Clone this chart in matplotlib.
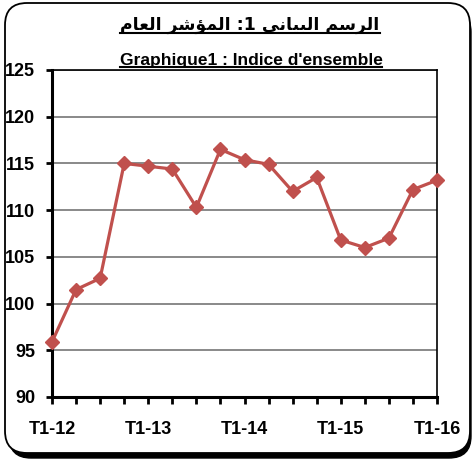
import matplotlib
matplotlib.use('Agg')
import matplotlib.pyplot as plt
from matplotlib.patches import FancyBboxPatch
from matplotlib.lines import Line2D
from matplotlib.transforms import IdentityTransform

# données
quarters = ['T1-12', 'T2-12', 'T3-12', 'T4-12',
            'T1-13', 'T2-13', 'T3-13', 'T4-13',
            'T1-14', 'T2-14', 'T3-14', 'T4-14',
            'T1-15', 'T2-15', 'T3-15', 'T4-15',
            'T1-16']
indice = [95.9, 101.5, 102.7, 115.0,
          114.7, 114.4, 110.3, 116.5,
          115.4, 114.9, 112.0, 113.5,
          106.8, 106.0, 107.0, 112.2,
          113.2]
y_ticks = [90, 95, 100, 105, 110, 115, 120, 125]

title_ar = 'الرسم البيانى 1: المؤشر العام'
title_fr = "Graphique1 : Indice d'ensemble"

# formes contextuelles arabes (isolée, finale, initiale, médiane)
forms = {
    'ا': ('\uFE8D', '\uFE8E', None, None),
    'ل': ('\uFEDD', '\uFEDE', '\uFEDF', '\uFEE0'),
    'ر': ('\uFEAD', '\uFEAE', None, None),
    'س': ('\uFEB1', '\uFEB2', '\uFEB3', '\uFEB4'),
    'م': ('\uFEE1', '\uFEE2', '\uFEE3', '\uFEE4'),
    'ب': ('\uFE8F', '\uFE90', '\uFE91', '\uFE92'),
    'ي': ('\uFEF1', '\uFEF2', '\uFEF3', '\uFEF4'),
    'ى': ('\uFEEF', '\uFEF0', None, None),
    'ن': ('\uFEE5', '\uFEE6', '\uFEE7', '\uFEE8'),
    'ؤ': ('\uFE85', '\uFE86', None, None),
    'ش': ('\uFEB5', '\uFEB6', '\uFEB7', '\uFEB8'),
    'ع': ('\uFEC9', '\uFECA', '\uFECB', '\uFECC'),
}


def shape_arabic(s):
    out = []
    for i, c in enumerate(s):
        if c not in forms:
            out.append(c)
            continue
        prev = s[i - 1] if i > 0 else ''
        nxt = s[i + 1] if i + 1 < len(s) else ''
        join_prev = prev in forms and forms[prev][2] is not None
        join_next = nxt in forms and forms[c][2] is not None
        iso, fin, ini, med = forms[c]
        if join_prev and join_next:
            out.append(med)
        elif join_prev:
            out.append(fin)
        elif join_next:
            out.append(ini)
        else:
            out.append(iso)
    return ''.join(out)[::-1]


plt.rcParams['font.family'] = ['Liberation Sans', 'DejaVu Sans']

fig = plt.figure(figsize=(4.74, 4.63), dpi=100)

# cadre arrondi avec ombre
shadow = FancyBboxPatch((9, 5), 462, 448, boxstyle='round,pad=0,rounding_size=22',
                        transform=IdentityTransform(), facecolor='black',
                        edgecolor='black', lw=1, zorder=0)
frame = FancyBboxPatch((5, 10), 465, 450, boxstyle='round,pad=0,rounding_size=22',
                       transform=IdentityTransform(), facecolor='white',
                       edgecolor='black', lw=1.3, zorder=1)
fig.patches.append(shadow)
fig.patches.append(frame)

ax = fig.add_axes([52 / 474, 1 - 397 / 463, (437 - 52) / 474, (397 - 70) / 463])
ax.set_zorder(2)
ax.patch.set_alpha(0)

x = list(range(len(quarters)))
ax.plot(x, indice, color='#C0504D', lw=2.3, marker='D', markersize=7,
        markeredgecolor='#C0504D', zorder=3, clip_on=False)

ax.set_xlim(0, len(quarters) - 1)
ax.set_ylim(90, 125)
ax.set_yticks(y_ticks)
ax.set_xticks(x)
ax.set_xticklabels([q if i % 4 == 0 else '' for i, q in enumerate(quarters)])
ax.yaxis.grid(True, color='#808080', lw=1.3)
ax.set_axisbelow(True)

for side in ['left', 'bottom']:
    ax.spines[side].set_linewidth(2.2)
for side in ['top', 'right']:
    ax.spines[side].set_linewidth(1.2)

ax.tick_params(axis='y', direction='out', length=4, width=2, pad=8,
               labelsize=13)
ax.tick_params(axis='x', direction='out', length=5, width=2, pad=12,
               labelsize=13)
for lab in ax.get_xticklabels() + ax.get_yticklabels():
    lab.set_fontweight('bold')

# titres soulignés
t1 = fig.text(250 / 474, 1 - 25 / 463, shape_arabic(title_ar), ha='center', va='center',
              fontsize=12.5, fontweight='bold', family=['DejaVu Sans'], zorder=5)
t2 = fig.text(251 / 474, 1 - 60 / 463, title_fr, ha='center', va='center',
              fontsize=12.5, fontweight='bold', zorder=5)

fig.canvas.draw()
r = fig.canvas.get_renderer()
for t, off in [(t1, 1), (t2, 1)]:
    bb = t.get_window_extent(r)
    fig.lines.append(Line2D([bb.x0, bb.x1], [bb.y0 + off, bb.y0 + off],
                            transform=IdentityTransform(), color='black',
                            lw=1.5, zorder=5))

fig.savefig('out.png', dpi=100)
